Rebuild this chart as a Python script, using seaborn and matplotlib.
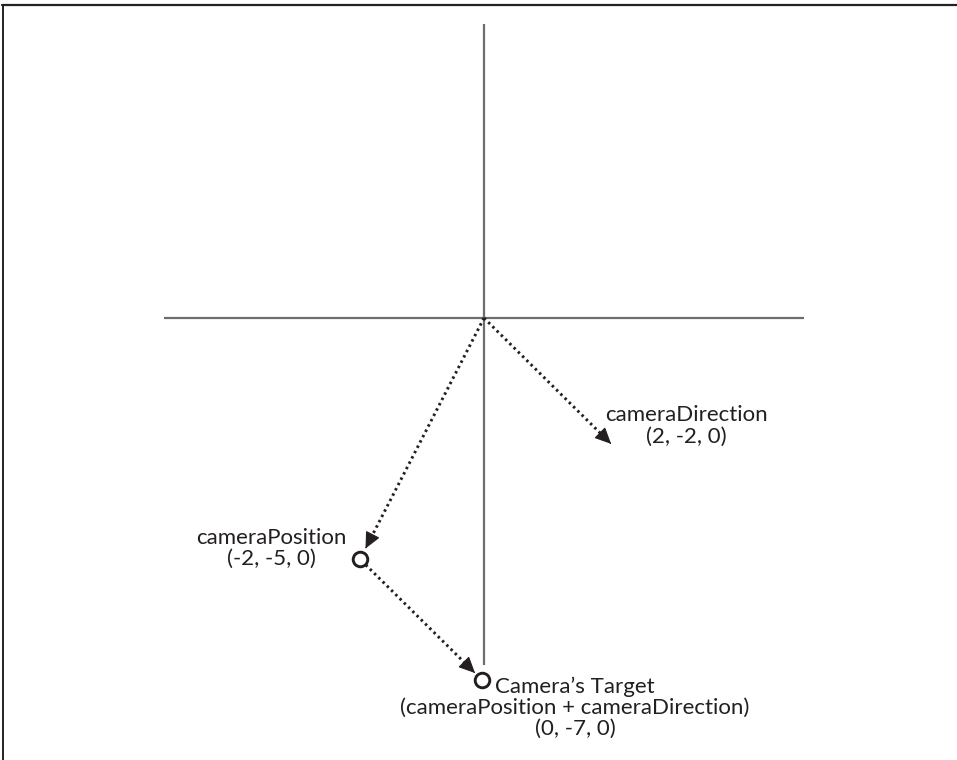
import matplotlib
matplotlib.use("Agg")
import matplotlib.pyplot as plt
import seaborn as sns
import pandas as pd
import numpy as np
from matplotlib.lines import Line2D

# ---- data (diagram coordinates, 1 unit ~ grid step of the sketch) ----
point_names = ["cameraPosition", "Camera\u2019s Target"]
point_x = [-2.0, -0.03]
point_y = [-3.89, -5.84]
point_values = ["(-2, -5, 0)", "(0, -7, 0)"]

direction_name = "cameraDirection"
direction_x = [2.05]
direction_y = [-2.03]
direction_value = "(2, -2, 0)"

target_formula = "(cameraPosition + cameraDirection)"

axis_x_extent = [-5.16, 5.16]
axis_y_extent = [-5.6, 4.74]

# label anchors (diagram coordinates)
label_x = [-3.435, 1.468, 3.26]
label_y = [-3.71, -6.29, -1.74]

sns.set_theme(style="white")
plt.rcParams["font.family"] = ["Lato", "DejaVu Sans"]

fig = plt.figure(figsize=(9.57, 7.6), dpi=100)
ax = fig.add_axes([0, 0, 1, 1])
ax.set_xlim(-484 / 62, (957 - 484) / 62)
ax.set_ylim(-(760 - 318) / 62, 318 / 62)
ax.axis("off")

axis_color = "#6d6d6d"
ink = "#231f20"

# coordinate axes
ax.plot(axis_x_extent, [0, 0], color=axis_color, lw=1.6, solid_capstyle="butt", zorder=1)
ax.plot([0, 0], axis_y_extent, color=axis_color, lw=1.6, solid_capstyle="butt", zorder=1)


def dotted_arrow(start, end, shrink_start_px=0.0, shrink_end_px=0.0, head_len_px=14.0):
    to_disp = ax.transData
    to_data = ax.transData.inverted()
    a = np.array(to_disp.transform(start))
    b = np.array(to_disp.transform(end))
    u = (b - a) / np.linalg.norm(b - a)
    a2 = a + u * shrink_start_px
    tip = b - u * shrink_end_px
    shaft_end = tip - u * (head_len_px - 2)
    p0, p1 = to_data.transform([a2, shaft_end])
    ax.plot([p0[0], p1[0]], [p0[1], p1[1]], color=ink, lw=2.1,
            linestyle=(0, (0.85, 1.2)), dash_capstyle="butt", zorder=3)
    h0, h1 = to_data.transform([tip - u * 1.0, tip])
    ax.annotate("", xy=(h1[0], h1[1]), xytext=(h0[0], h0[1]),
                arrowprops=dict(arrowstyle="-|>,head_length=0.85,head_width=0.4",
                                mutation_scale=12, color=ink, lw=0.8,
                                shrinkA=0, shrinkB=0), zorder=4)


# origin -> cameraDirection
dotted_arrow((0, 0), (direction_x[0], direction_y[0]))
# origin -> cameraPosition
dotted_arrow((0, 0), (point_x[0], point_y[0]), shrink_end_px=12)
# cameraPosition -> target
dotted_arrow((point_x[0], point_y[0]), (point_x[1], point_y[1]),
             shrink_start_px=8, shrink_end_px=10)

df = pd.DataFrame({"x": point_x, "y": point_y, "name": point_names})
sns.scatterplot(data=df, x="x", y="y", ax=ax, s=110, marker="o",
                facecolor="white", edgecolor=ink, linewidth=2.1, zorder=5, legend=False)

labels = [
    f"{point_names[0]}\n{point_values[0]}",
    f"{point_names[1]}\n{target_formula}\n{point_values[1]}",
    f"{direction_name}\n{direction_value}",
]
for lx, ly, txt in zip(label_x, label_y, labels):
    ax.text(lx, ly, txt, ha="center", va="center", fontsize=16, color=ink,
            linespacing=1.06, multialignment="center")

# frame lines (top and left)
fig.add_artist(Line2D([0.002, 1.0], [1 - 4.5 / 760, 1 - 4.5 / 760], transform=fig.transFigure,
                      color="#222222", lw=1.6))
fig.add_artist(Line2D([2.5 / 957, 2.5 / 957], [0, 1 - 4.5 / 760], transform=fig.transFigure,
                      color="#222222", lw=1.4))

fig.savefig("out.png", dpi=100)
